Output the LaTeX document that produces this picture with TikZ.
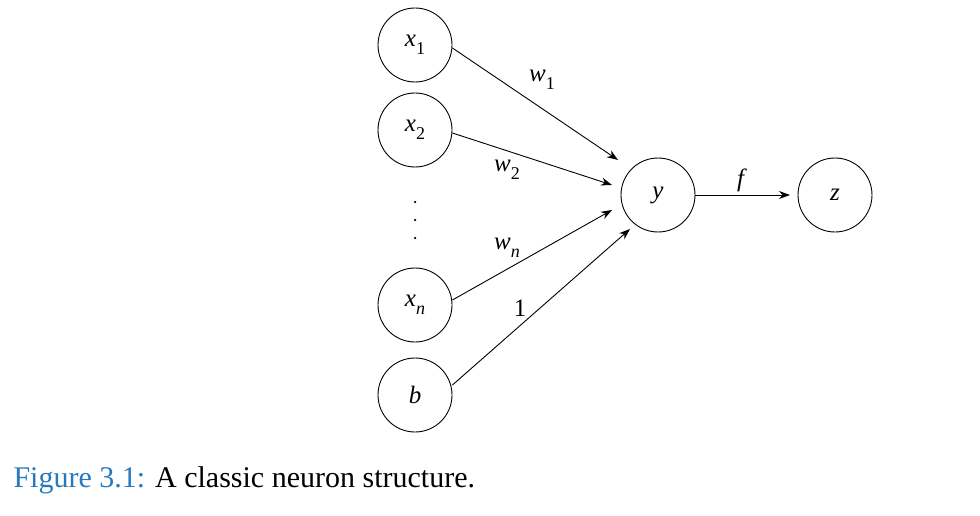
\documentclass[tikz,border=0pt]{standalone}
\usepackage{fontspec}
\setmainfont{Liberation Serif}
\usetikzlibrary{arrows.meta}
\newcommand{\vsub}[2]{\textit{#1}\raisebox{-0.3em}{\fontsize{18}{20}\selectfont #2}}
\newcommand{\vsubi}[2]{\textit{#1}\raisebox{-0.3em}{\fontsize{18}{20}\selectfont\textit{#2}}}
\begin{document}
\begin{tikzpicture}[x=1pt,y=-1pt,
  neuron/.style={circle,draw,line width=0.9pt,minimum size=74pt,inner sep=0pt,font=\fontsize{25}{29}\selectfont},
  conn/.style={-{Stealth[length=11pt,width=8pt]},line width=0.9pt},
  lab/.style={font=\fontsize{25}{29}\selectfont},
  dot/.style={circle,fill,inner sep=0pt,minimum size=2.5pt}]
\useasboundingbox (0,0) rectangle (980,516);
\node[neuron] (x1) at (415,45) {\vsub{x}{1}};
\node[neuron] (x2) at (415,130) {\vsub{x}{2}};
\node[neuron] (xn) at (415,305) {\vsubi{x}{n}};
\node[neuron] (b) at (415,395) {\textit{b}};
\node[neuron] (y) at (658,195) {\textit{y}};
\node[neuron] (z) at (835,195) {\textit{z}};
\node[dot] (d1) at (415,202) {};
\node[dot] (d2) at (415,220) {};
\node[dot] (d3) at (415,238) {};
\coordinate (e1) at (618,160);
\coordinate (e2) at (612,185);
\coordinate (en) at (612,210);
\coordinate (eb) at (630,229);
\coordinate (ez) at (790,195);
\draw[conn] (x1.east) ++(0,3) -- (e1);
\draw[conn] (x2.east) ++(0,3) -- (e2);
\draw[conn] (xn.east) ++(0,-5) -- (en);
\draw[conn] (b.east) ++(0,-10) -- (eb);
\draw[conn] (y.east) -- (ez);
\node[lab] (w1) at (542,80) {\vsub{w}{1}};
\node[lab] (w2) at (507,170) {\vsub{w}{2}};
\node[lab] (wn) at (507,248) {\vsubi{w}{n}};
\node[lab] (one) at (520,308) {1};
\node[lab] (f) at (742,180) {\textit{f}};
\node[anchor=west,font=\fontsize{30}{34}\selectfont] (cap) at (10,480) {\textcolor[RGB]{40,120,190}{Figure 3.1:} A classic neuron structure.};
\end{tikzpicture}
\end{document}
